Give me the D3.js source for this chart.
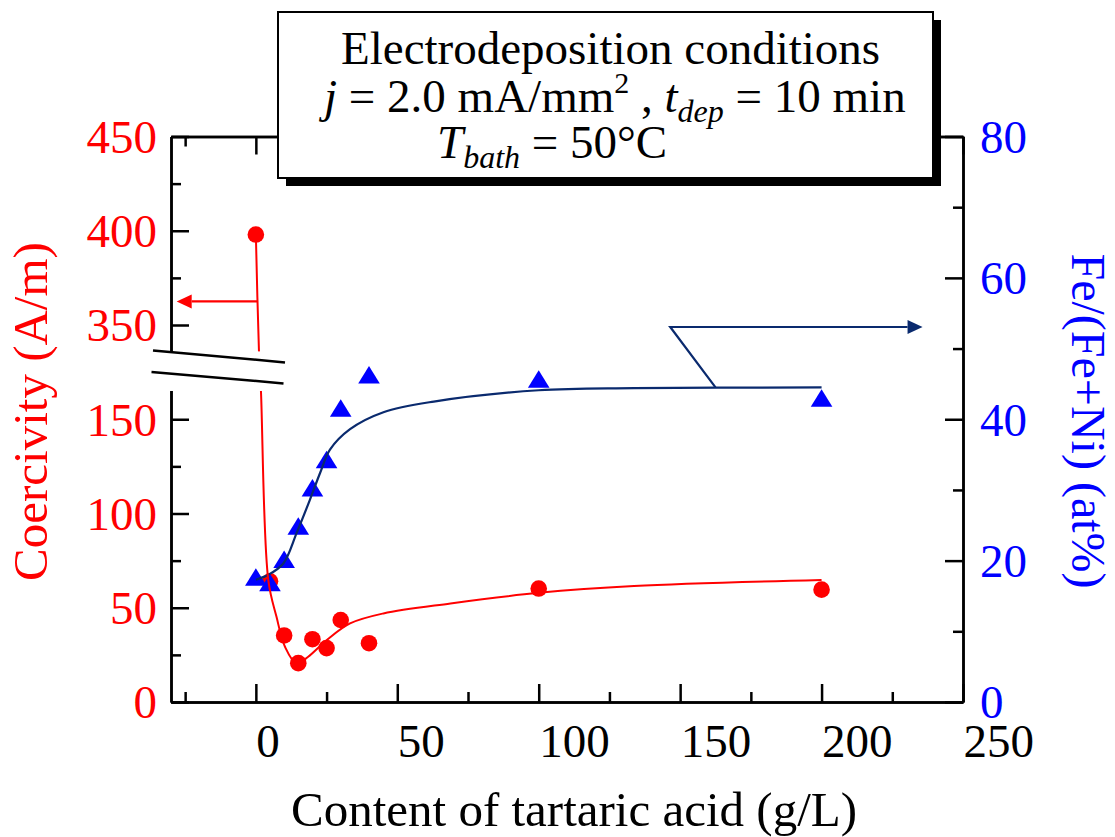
<!DOCTYPE html>
<html><head><meta charset="utf-8">
<script src="https://cdn.jsdelivr.net/npm/d3@7"></script>
<style>
body{margin:0;background:#fff}
svg{display:block}
text{font-family:"Liberation Serif","Times New Roman",serif}
</style>
</head><body>
<svg id="c" width="1115" height="837"></svg>
<script>
// ---- data ----
const tartaric   = [0, 5, 10, 15, 20, 25, 30, 40, 100, 200];
const coercivity = [398, 64, 35.3, 20.6, 33.3, 28.6, 43.5, 31.2, 60.2, 59.6];
const feRatio    = [17.7, 16.9, 20.2, 24.9, 30.3, 34.3, 41.6, 46.3, 45.7, 43.0];

const coercFitX = [0, 1.1, 1.8, 4.4, 7.3, 10.3, 14.4, 18.5, 25.1, 33.3, 45.1, 68.8, 100, 133.7, 200];
const coercFitY = [398, 336, 165, 64.7, 45.2, 29.3, 20.5, 24, 32.9, 41.7, 47, 52.3, 57.9, 61.5, 64.7];
const feFitX = [0, 4.4, 9.7, 14.4, 19.1, 22.7, 26.2, 33.3, 45.1, 62.9, 100, 133.8, 200];
const feFitY = [17.3, 18, 19.6, 23.9, 28.6, 32.4, 35.7, 38.6, 41.0, 42.5, 44.1, 44.4, 44.5];

const coercArrowX = [0.6, -28];
const coercArrowY = [362.5, 362.5];
const feArrowX = [162.5, 146.5, 235.7];
const feArrowY = [44.5, 53.05, 53.05];

const xTicks = [0, 50, 100, 150, 200, 250];
const xMinor = [-25, 25, 75, 125, 175, 225];
const leftTicks = [0, 50, 100, 150, 350, 400, 450];
const leftMinor = [25, 75, 125, 375, 425];
const rightTicks = [0, 20, 40, 60, 80];
const rightMinor = [10, 30, 50, 70];
const breakLow = 165, breakHigh = 336;

const xTitle = "Content of tartaric acid (g/L)";
const leftTitle = "Coercivity (A/m)";
const rightTitle = "Fe/(Fe+Ni) (at%)";

// ---- layout ----
const L = 171, R = 963, T = 136.5, B = 702;
const svg = d3.select("#c");
const RED = "#ff0000", BLUE = "#0000ff", NAVY = "#0a2a6e";
const FS = 47;

const x = d3.scaleLinear().domain([-30, 250]).range([L, R]);
const per = (B - T) / 300;
const yL = d3.scaleLinear().domain([0, 175, 325, 450])
  .range([B, B - 175 * per, B - 175 * per, T]);
const yR = d3.scaleLinear().domain([0, 80]).range([B, T]);

function styleAxis(g, color) {
  g.attr("font-family", null).attr("font-size", null);
  g.selectAll("path.domain").attr("stroke", "#000").attr("stroke-width", 2.5);
  g.selectAll(".tick line").attr("stroke", "#000").attr("stroke-width", 2.5);
  g.selectAll(".tick text").attr("fill", color).style("font-size", FS + "px");
}

// bottom
const gb = svg.append("g").attr("transform", `translate(0,${B})`)
  .call(d3.axisBottom(x).tickValues(xTicks).tickSizeInner(-18).tickSizeOuter(0).tickFormat(d3.format("d")));
styleAxis(gb, "#000");
gb.selectAll(".tick text").attr("text-anchor", "start").attr("x", 0).attr("y", 55).attr("dy", 0);
const gbm = svg.append("g").attr("transform", `translate(0,${B})`)
  .call(d3.axisBottom(x).tickValues(xMinor).tickSizeInner(-10).tickSizeOuter(0).tickFormat(""));
styleAxis(gbm, "#000");

// top
const gt = svg.append("g").attr("transform", `translate(0,${T})`)
  .call(d3.axisTop(x).tickValues(xTicks).tickSizeInner(-18).tickSizeOuter(0).tickFormat(""));
styleAxis(gt, "#000");
const gtm = svg.append("g").attr("transform", `translate(0,${T})`)
  .call(d3.axisTop(x).tickValues(xMinor).tickSizeInner(-10).tickSizeOuter(0).tickFormat(""));
styleAxis(gtm, "#000");

// left
const gl = svg.append("g").attr("transform", `translate(${L},0)`)
  .call(d3.axisLeft(yL).tickValues(leftTicks).tickSizeInner(-18).tickSizeOuter(0).tickFormat(d3.format("d")));
styleAxis(gl, RED);
gl.selectAll(".tick text").attr("text-anchor", "end").attr("x", -14).attr("dy", "0.34em");
const glm = svg.append("g").attr("transform", `translate(${L},0)`)
  .call(d3.axisLeft(yL).tickValues(leftMinor).tickSizeInner(-10).tickSizeOuter(0).tickFormat(""));
styleAxis(glm, RED);

// right
const gr = svg.append("g").attr("transform", `translate(${R},0)`)
  .call(d3.axisRight(yR).tickValues(rightTicks).tickSizeInner(-18).tickSizeOuter(0).tickFormat(d3.format("d")));
styleAxis(gr, BLUE);
gr.selectAll(".tick text").attr("text-anchor", "start").attr("x", 17).attr("dy", "0.34em");
const grm = svg.append("g").attr("transform", `translate(${R},0)`)
  .call(d3.axisRight(yR).tickValues(rightMinor).tickSizeInner(-10).tickSizeOuter(0).tickFormat(""));
styleAxis(grm, BLUE);

// ---- markers ----
const pts = tartaric.map((t, i) => ({t, c: coercivity[i], f: feRatio[i]}));
svg.append("g").selectAll("circle").data(pts).join("circle")
  .attr("cx", d => x(d.t)).attr("cy", d => yL(d.c)).attr("r", 8.3).attr("fill", RED);
const tw = 10.8, th = 17.5;
svg.append("g").selectAll("path").data(pts).join("path")
  .attr("d", d => {
    const cx = x(d.t), cy = yR(d.f);
    return `M${cx},${cy - th / 2}L${cx + tw},${cy + th / 2}L${cx - tw},${cy + th / 2}Z`;
  })
  .attr("fill", BLUE);

// ---- fit curves ----
const blueLine = d3.line().x(d => x(d[0])).y(d => yR(d[1])).curve(d3.curveCatmullRom.alpha(0.5));
svg.append("path").attr("d", blueLine(feFitX.map((v, i) => [v, feFitY[i]])))
  .attr("fill", "none").attr("stroke", NAVY).attr("stroke-width", 2.2);
const redLine = d3.line().x(d => x(d[0])).y(d => yL(d[1])).curve(d3.curveCatmullRom.alpha(0.5));
svg.append("path").attr("d", redLine(coercFitX.map((v, i) => [v, coercFitY[i]])))
  .attr("fill", "none").attr("stroke", RED).attr("stroke-width", 2);

// ---- axis break ----
const yTopB = yL(breakHigh), yBotB = yL(breakLow);
svg.append("rect").attr("x", 145).attr("y", yTopB).attr("width", 145).attr("height", yBotB - yTopB)
  .attr("fill", "#fff");
svg.append("line").attr("x1", 153).attr("y1", yTopB - 1).attr("x2", 285).attr("y2", yTopB + 11)
  .attr("stroke", "#000").attr("stroke-width", 2.5);
svg.append("line").attr("x1", 151.5).attr("y1", yTopB + 20.5).attr("x2", 283.5).attr("y2", yTopB + 32)
  .attr("stroke", "#000").attr("stroke-width", 2.5);

// ---- arrows ----
function arrow(xs, ys, yScale, color) {
  const p = xs.map((v, i) => [x(v), yScale(ys[i])]);
  const n = p.length;
  const tip = p[n - 1], prev = p[n - 2];
  const dir = Math.sign(tip[0] - prev[0]);
  const base = tip[0] - dir * 15;
  svg.append("path").attr("d", d3.line()(p.slice(0, n - 1).concat([[base, tip[1]]])))
    .attr("fill", "none").attr("stroke", color).attr("stroke-width", 2.2);
  svg.append("path").attr("d", `M${tip[0]},${tip[1]}L${base},${tip[1] - 7}L${base},${tip[1] + 7}Z`)
    .attr("fill", color);
}
arrow(coercArrowX, coercArrowY, yL, RED);
arrow(feArrowX, feArrowY, yR, NAVY);

// ---- titles ----
svg.append("text").attr("x", 574).attr("y", 826).attr("text-anchor", "middle")
  .style("font-size", "49px").attr("fill", "#000").text(xTitle);
svg.append("text").attr("transform", "translate(46.5,411.5) rotate(-90)").attr("text-anchor", "middle")
  .style("font-size", "49px").attr("fill", RED).text(leftTitle);
svg.append("text").attr("transform", "translate(1072,421) rotate(90)").attr("text-anchor", "middle")
  .style("font-size", "48px").attr("fill", BLUE).text(rightTitle);

// ---- conditions box ----
svg.append("rect").attr("x", 286).attr("y", 20).attr("width", 655).attr("height", 166).attr("fill", "#000");
svg.append("rect").attr("x", 278).attr("y", 12).attr("width", 655).attr("height", 166)
  .attr("fill", "#fff").attr("stroke", "#000").attr("stroke-width", 2);

svg.append("text").attr("x", 341).attr("y", 64).style("font-size", FS + "px").attr("fill", "#000")
  .text("Electrodeposition conditions");
const t2 = svg.append("text").attr("x", 324).attr("y", 112).style("font-size", FS + "px").attr("fill", "#000")
  .attr("xml:space", "preserve");
t2.append("tspan").style("font-style", "italic").text("j");
t2.append("tspan").text(" = 2.0 mA/mm");
t2.append("tspan").attr("dy", -19).style("font-size", "30px").text("2");
t2.append("tspan").attr("dy", 19).text(" , ");
t2.append("tspan").style("font-style", "italic").text("t");
t2.append("tspan").attr("dy", 10).style("font-style", "italic").style("font-size", "32px").text("dep");
t2.append("tspan").attr("dy", -10).text(" = 10 min");
const t3 = svg.append("text").attr("x", 437).attr("y", 158).style("font-size", FS + "px").attr("fill", "#000");
t3.append("tspan").style("font-style", "italic").text("T");
t3.append("tspan").attr("dy", 10).style("font-style", "italic").style("font-size", "32px").text("bath");
t3.append("tspan").attr("dy", -10).text(" = 50°C");
</script>
</body></html>
